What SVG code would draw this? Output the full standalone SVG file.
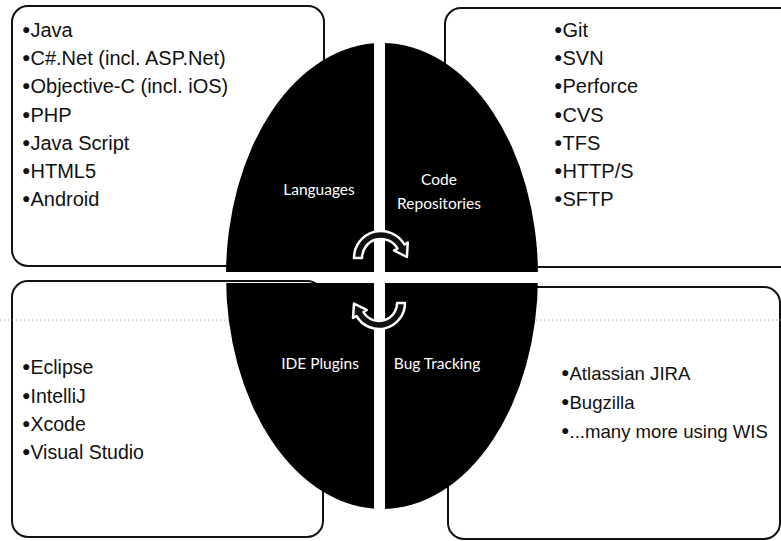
<svg xmlns="http://www.w3.org/2000/svg" width="781" height="541" viewBox="0 0 781 541">
<defs>
<style>
.box{fill:#fff;stroke:#111;stroke-width:2}
.lst{font-family:"Liberation Sans",Arial,sans-serif;font-size:20px;fill:#111}
.bl{font-size:19.5px}
.br{font-size:18.6px}
.b{font-size:14px;baseline-shift:3px}
.lbl{font-family:Lato,"Open Sans",sans-serif;font-size:15.5px;fill:#fff;text-anchor:middle}
.arr{fill:#111;stroke:#fff;stroke-width:2.5;stroke-linejoin:round}
</style>
<mask id="gaps">
<rect x="0" y="0" width="781" height="541" fill="#fff"/>
<rect x="374" y="0" width="11" height="541" fill="#000"/>
<rect x="0" y="272" width="781" height="11" fill="#000"/>
</mask>
</defs>
<rect width="781" height="541" fill="#fff"/>
<g id="box-languages"><rect class="box" x="12" y="6" width="312" height="260" rx="16"/></g>
<g id="box-repos"><rect class="box" x="445" y="8" width="350" height="259" rx="16"/></g>
<g id="box-ide"><rect class="box" x="12" y="281" width="311" height="256" rx="16"/></g>
<g id="box-bugs"><rect class="box" x="448" y="287" width="332" height="252" rx="16"/></g>
<line x1="0" y1="320" x2="781" y2="320" stroke="#aaa" stroke-width="1" stroke-dasharray="1 3"/>
<g id="ellipse"><ellipse cx="382" cy="276" rx="156" ry="233" fill="#000" mask="url(#gaps)"/></g>
<g id="languages">
<text class="lbl" x="319" y="195">Languages</text>
<text class="lst" x="22" y="37"><tspan class="b">●</tspan>Java</text>
<text class="lst" x="22" y="65"><tspan class="b">●</tspan>C#.Net (incl. ASP.Net)</text>
<text class="lst" x="22" y="93"><tspan class="b">●</tspan>Objective-C (incl. iOS)</text>
<text class="lst" x="22" y="122"><tspan class="b">●</tspan>PHP</text>
<text class="lst" x="22" y="150"><tspan class="b">●</tspan>Java Script</text>
<text class="lst" x="22" y="178"><tspan class="b">●</tspan>HTML5</text>
<text class="lst" x="22" y="206"><tspan class="b">●</tspan>Android</text>
</g>
<g id="repositories">
<text class="lbl" x="439" y="185">Code</text>
<text class="lbl" x="439" y="209">Repositories</text>
<text class="lst" x="554" y="37"><tspan class="b">●</tspan>Git</text>
<text class="lst" x="554" y="65"><tspan class="b">●</tspan>SVN</text>
<text class="lst" x="554" y="93"><tspan class="b">●</tspan>Perforce</text>
<text class="lst" x="554" y="122"><tspan class="b">●</tspan>CVS</text>
<text class="lst" x="554" y="150"><tspan class="b">●</tspan>TFS</text>
<text class="lst" x="554" y="178"><tspan class="b">●</tspan>HTTP/S</text>
<text class="lst" x="554" y="206"><tspan class="b">●</tspan>SFTP</text>
</g>
<g id="ide-plugins">
<text class="lbl" x="320" y="369">IDE Plugins</text>
<text class="lst bl" x="22" y="374"><tspan class="b">●</tspan>Eclipse</text>
<text class="lst bl" x="22" y="403"><tspan class="b">●</tspan>IntelliJ</text>
<text class="lst bl" x="22" y="431"><tspan class="b">●</tspan>Xcode</text>
<text class="lst bl" x="22" y="459"><tspan class="b">●</tspan>Visual Studio</text>
</g>
<g id="bug-tracking">
<text class="lbl" x="437" y="369">Bug Tracking</text>
<text class="lst br" x="561" y="380"><tspan class="b">●</tspan>Atlassian JIRA</text>
<text class="lst br" x="561" y="409"><tspan class="b">●</tspan>Bugzilla</text>
<text class="lst br" x="561" y="438"><tspan class="b">●</tspan>...many more using WIS</text>
</g>
<g id="connectors">
<path class="arr" d="M354,258 A27,27 0 0 1 404.4,244.5 L407.8,242.5 L406.9,257 L394,250.5 L397.5,248.5 A19,19 0 0 0 362,258 Z"/>
<path class="arr" d="M405,303 A26,26 0 0 1 356.5,316 L353,318 L354,303.6 L366.9,310 L363.4,312 A18,18 0 0 0 397,303 Z"/>
</g>
</svg>
